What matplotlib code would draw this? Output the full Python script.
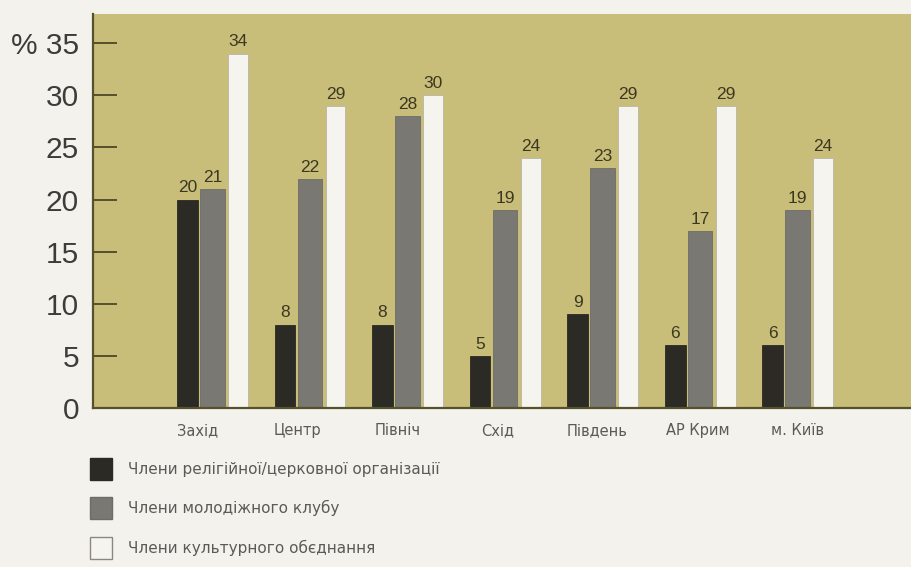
import matplotlib
matplotlib.use("Agg")
import matplotlib.pyplot as plt
from matplotlib.patches import Rectangle
import numpy as np

# Regions of Ukraine
regions = ["Захід", "Центр", "Північ", "Схід", "Південь", "АР Крим", "м. Київ"]

# Share of respondents (%) by type of membership
religious = [20, 8, 8, 5, 9, 6, 6]
youth_club = [21, 22, 28, 19, 23, 17, 19]
cultural = [34, 29, 30, 24, 29, 29, 24]

series_names = [
    "Члени релігійної/церковної організації",
    "Члени молодіжного клубу",
    "Члени культурного обєднання",
]

y_ticks = [0, 5, 10, 15, 20, 25, 30, 35]
y_tick_labels = ["0", "5", "10", "15", "20", "25", "30", "% 35"]

# Styling
fig_bg = "#f3f2ec"
panel_bg = "#c9bd7a"
axis_col = "#55512c"
colors = ["#2b2a24", "#7a7872", "#f6f4ef"]
edges = ["#2b2a24", "#6e6c66", "#b9b6a8"]
widths = [0.215, 0.255, 0.205]
offsets = [0.0, 0.256, 0.518]

fig = plt.figure(figsize=(9.11, 5.67), dpi=100, facecolor=fig_bg)
ax = fig.add_axes([93 / 911, 1 - 408 / 567, 1 - 93 / 911, (408 - 14) / 567])
ax.set_facecolor(panel_bg)

x = np.arange(len(regions))
for vals, off, w, c, e in zip([religious, youth_club, cultural], offsets, widths, colors, edges):
    bars = ax.bar(x + off, vals, width=w, color=c, edgecolor=e, linewidth=0.6, zorder=3)
    for b, v in zip(bars, vals):
        ax.annotate(str(v), (b.get_x() + b.get_width() / 2, v),
                    xytext=(0, 3), textcoords="offset points",
                    ha="center", va="bottom", fontsize=12.5,
                    family="Liberation Sans", color="#3a3820", zorder=4)

ax.set_xlim(-0.969, 7.42)
ax.set_ylim(0, 37.8)

ax.set_yticks(y_ticks)
ax.set_yticklabels(y_tick_labels, family="Liberation Sans", fontsize=21.5, color="#3c3c3a")
ax.tick_params(axis="y", direction="in", length=17, width=1.4, color=axis_col, pad=10)

ax.set_xticks(x * 1.026 + 0.1)
ax.set_xticklabels(regions, family="DejaVu Sans", fontsize=10.5, color="#5a5a58")
ax.tick_params(axis="x", length=0, pad=11)

for side in ["top", "right"]:
    ax.spines[side].set_visible(False)
for side in ["left", "bottom"]:
    ax.spines[side].set_color(axis_col)
    ax.spines[side].set_linewidth(1.6)
    ax.spines[side].set_zorder(5)

# Legend below the chart
W, H = 911, 567
sq = 22
row_centres = [469, 508, 548]
for name, c, e, yc in zip(series_names, colors, edges, row_centres):
    fig.patches.append(Rectangle((90 / W, 1 - (yc + sq / 2) / H), sq / W, sq / H,
                                 transform=fig.transFigure, facecolor=c,
                                 edgecolor=e if c != colors[2] else "#8a8880",
                                 linewidth=1.0))
    fig.text(128 / W, 1 - yc / H, name, ha="left", va="center",
             family="DejaVu Sans", fontsize=11, color="#5a5a58")

fig.savefig("out.png", dpi=100, facecolor=fig_bg)
